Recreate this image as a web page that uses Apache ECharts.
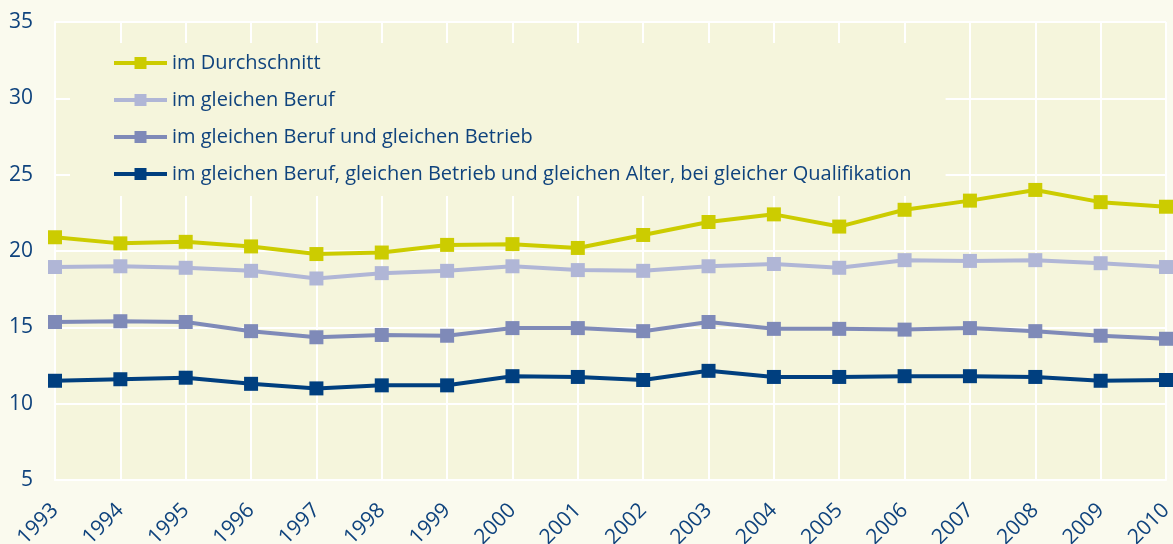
<!DOCTYPE html>
<html>
<head>
<meta charset="utf-8">
<script src="https://cdn.jsdelivr.net/npm/echarts@6/dist/echarts.min.js"></script>
<style>
  html, body { margin: 0; padding: 0; background: #fafaee; }
  #chart { width: 1173px; height: 544px; }
</style>
</head>
<body>
<div id="chart"></div>
<script>
const years = ["1993", "1994", "1995", "1996", "1997", "1998", "1999", "2000", "2001",
  "2002", "2003", "2004", "2005", "2006", "2007", "2008", "2009", "2010"];
const durchschnitt = [20.9, 20.5, 20.6, 20.3, 19.8, 19.9, 20.4, 20.45, 20.2,
  21.05, 21.9, 22.4, 21.6, 22.7, 23.3, 24.0, 23.2, 22.9];
const gleicherBeruf = [18.95, 19.0, 18.9, 18.7, 18.2, 18.55, 18.7, 19.0, 18.75,
  18.7, 19.0, 19.15, 18.9, 19.4, 19.35, 19.4, 19.2, 18.95];
const berufBetrieb = [15.35, 15.4, 15.35, 14.75, 14.35, 14.5, 14.45, 14.95, 14.95,
  14.75, 15.35, 14.9, 14.9, 14.85, 14.95, 14.75, 14.45, 14.25];
const berufBetriebAlter = [11.5, 11.6, 11.7, 11.3, 11.0, 11.2, 11.2, 11.8, 11.75,
  11.55, 12.15, 11.75, 11.75, 11.8, 11.8, 11.75, 11.5, 11.55];
const yTicks = [5, 10, 15, 20, 25, 30, 35];

const textColor = "#0f437d";
const plotBg = "#f5f5dc";
const font = "Open Sans";

const chart = echarts.init(document.getElementById("chart"));

function makeSeries(name, data, color) {
  return {
    name: name,
    type: "line",
    data: data,
    symbol: "rect",
    symbolSize: 14,
    lineStyle: { color: color, width: 4 },
    itemStyle: { color: color },
    animation: false
  };
}

chart.setOption({
  backgroundColor: "#fafaee",
  textStyle: { fontFamily: font },
  grid: {
    left: 55, right: 7, top: 22, bottom: 64,
    containLabel: false,
    outerBoundsMode: "none",
    show: true, backgroundColor: plotBg, borderWidth: 0
  },
  legend: {
    orient: "vertical",
    left: 70,
    top: 43,
    padding: [10, 34, 12, 42],
    backgroundColor: plotBg,
    itemWidth: 53,
    itemHeight: 15,
    itemGap: 17,
    lineStyle: { width: 4 },
    textStyle: { color: textColor, fontSize: 20, fontWeight: 500, lineHeight: 20, fontFamily: font },
    data: [
      "im Durchschnitt",
      "im gleichen Beruf",
      "im gleichen Beruf und gleichen Betrieb",
      "im gleichen Beruf, gleichen Betrieb und gleichen Alter, bei gleicher Qualifikation"
    ]
  },
  xAxis: {
    type: "category",
    data: years,
    boundaryGap: false,
    axisLine: { lineStyle: { color: "#ffffff", width: 2 } },
    axisTick: { show: false },
    splitLine: { show: true, lineStyle: { color: "#ffffff", width: 2 } },
    axisLabel: { rotate: 45, margin: 27, color: textColor, fontSize: 21, fontWeight: 500, fontFamily: font }
  },
  yAxis: {
    type: "value",
    min: yTicks[0],
    max: yTicks[yTicks.length - 1],
    interval: 5,
    axisLine: { show: true, lineStyle: { color: "#ffffff", width: 2 } },
    axisTick: { show: false },
    splitLine: { lineStyle: { color: "#ffffff", width: 2 } },
    axisLabel: { margin: 22, color: textColor, fontSize: 21, fontWeight: 500, fontFamily: font }
  },
  series: [
    makeSeries("im Durchschnitt", durchschnitt, "#cccc00"),
    makeSeries("im gleichen Beruf", gleicherBeruf, "#b0b6d6"),
    makeSeries("im gleichen Beruf und gleichen Betrieb", berufBetrieb, "#7f8ab8"),
    makeSeries("im gleichen Beruf, gleichen Betrieb und gleichen Alter, bei gleicher Qualifikation", berufBetriebAlter, "#003f7f")
  ]
});
</script>
</body>
</html>
